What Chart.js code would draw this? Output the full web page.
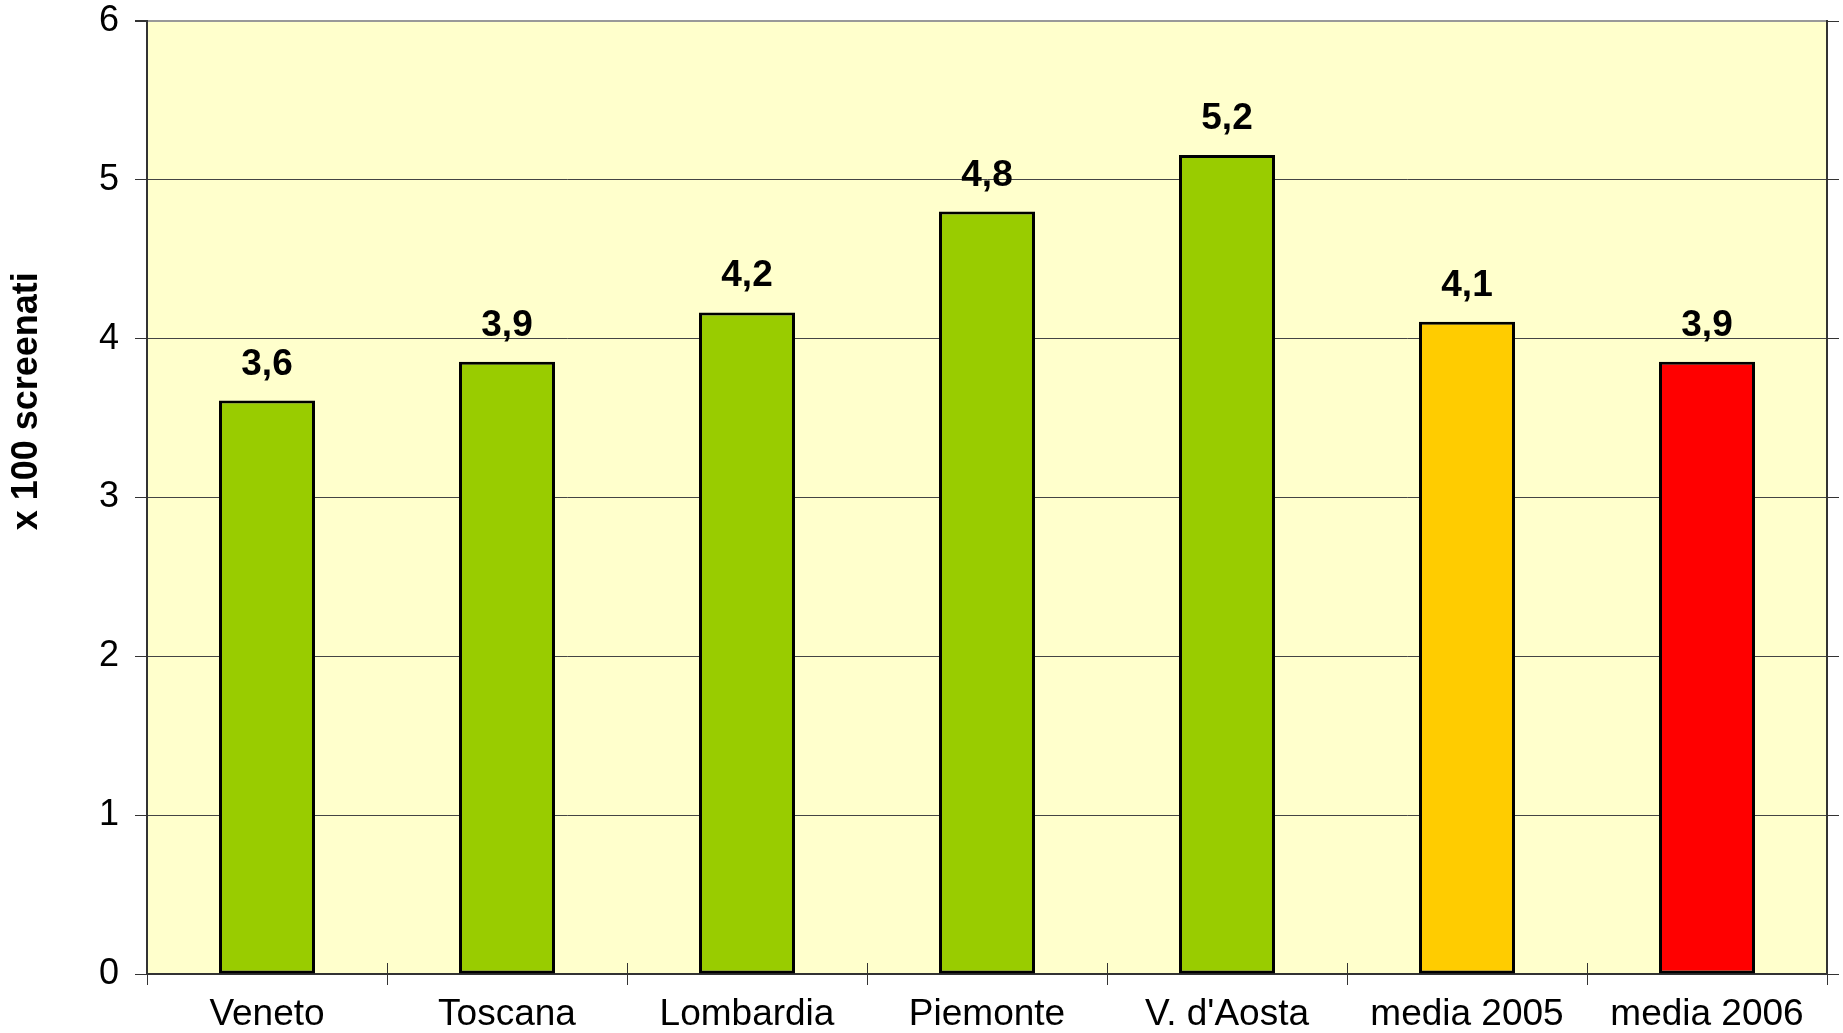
<!DOCTYPE html>
<html>
<head>
<meta charset="utf-8">
<script src="https://cdn.jsdelivr.net/npm/chart.js@4.4.0/dist/chart.umd.min.js"></script>
<style>
    html, body { margin: 0; padding: 0; background: #ffffff; }
    #wrap { width: 1843px; height: 1033px; }
</style>
</head>
<body>
<div id="wrap"><canvas id="screenChart" width="1843" height="1033"></canvas></div>
<script>
var categories = ['Veneto', 'Toscana', 'Lombardia', 'Piemonte', "V. d'Aosta", 'media 2005', 'media 2006']
var values = [3.61, 3.855, 4.165, 4.8, 5.157, 4.106, 3.855]
var barColors = ['#99CC00', '#99CC00', '#99CC00', '#99CC00', '#99CC00', '#FFCC00', '#FF0000']
var yTicks = [0, 1, 2, 3, 4, 5, 6]
var yTitle = 'x 100 screenati'

var fontFamily = '"Liberation Sans", Arial, sans-serif'

// plot background, value labels, y title and small inside ticks on the x axis
var decorPlugin = {
    id: 'decor',
    beforeDraw: function (chart) {
        var ctx = chart.ctx
        var a = chart.chartArea
        ctx.save()
        ctx.fillStyle = '#FFFFCC'
        ctx.fillRect(a.left, a.top, a.right - a.left, a.bottom - a.top)
        ctx.restore()
    },
    afterDatasetsDraw: function (chart) {
        var ctx = chart.ctx
        var a = chart.chartArea
        var meta = chart.getDatasetMeta(0)
        ctx.save()
        ctx.fillStyle = '#000000'
        ctx.font = 'bold 37px ' + fontFamily
        ctx.textAlign = 'center'
        ctx.textBaseline = 'alphabetic'
        meta.data.forEach(function (bar, i) {
            var txt = values[i].toFixed(1).replace('.', ',')
            ctx.fillText(txt, bar.x, bar.y - 26)
        })

        // x tick marks reaching into the plot
        var xs = chart.scales.x
        var step = (xs.right - xs.left) / categories.length
        ctx.strokeStyle = '#333333'
        ctx.lineWidth = 1
        for (var k = 0; k <= categories.length; k++) {
            var px = Math.round(xs.left + k * step) + 0.5
            ctx.beginPath()
            ctx.moveTo(px, a.bottom - 11)
            ctx.lineTo(px, a.bottom)
            ctx.stroke()
        }

        // y title
        ctx.font = 'bold 36px ' + fontFamily
        ctx.textBaseline = 'middle'
        ctx.translate(27, a.top + (a.bottom - a.top) * 0.399)
        ctx.rotate(-Math.PI / 2)
        ctx.fillText(yTitle, 0, 0)
        ctx.restore()
    }
}

var screenChartCanvas = document.getElementById('screenChart').getContext('2d')

var screenChartData = {
    labels: categories,
    datasets: [
        {
            data: values,
            backgroundColor: barColors,
            borderColor: '#000000',
            borderWidth: 3,
            borderSkipped: false,
            barPercentage: 0.4,
            categoryPercentage: 1.0
        }
    ]
}

var noEdgePadding = function (scale) {
    scale.paddingTop = 0
    scale.paddingBottom = 0
}

var screenChartOptions = {
    responsive: false,
    animation: false,
    layout: {
        padding: { top: 21, right: 0, bottom: 0, left: 0 }
    },
    plugins: {
        legend: { display: false },
        tooltip: { enabled: false }
    },
    scales: {
        x: {
            offset: true,
            grid: {
                offset: true,
                drawOnChartArea: false,
                color: '#333333',
                tickLength: 11,
                lineWidth: 1
            },
            border: { color: '#333333', width: 2 },
            ticks: {
                color: '#000000',
                font: { family: fontFamily, size: 37 },
                padding: 8,
                maxRotation: 0,
                autoSkip: false
            },
            afterFit: function (scale) { scale.height = 59 }
        },
        y: {
            min: 0,
            max: 6,
            afterBuildTicks: function (scale) {
                scale.ticks = yTicks.map(function (v) { return { value: v } })
            },
            grid: {
                color: function (c) { return c.tick && c.tick.value === 6 ? '#999999' : '#444444' },
                tickColor: '#333333',
                tickLength: 12,
                lineWidth: function (c) { return c.tick && c.tick.value === 6 ? 2 : 1 }
            },
            border: { color: '#333333', width: 2 },
            ticks: {
                color: '#000000',
                font: { family: fontFamily, size: 36 },
                padding: 16
            },
            afterFit: function (scale) {
                scale.width = 147
                noEdgePadding(scale)
            }
        },
        yRight: {
            position: 'right',
            min: 0,
            max: 6,
            afterBuildTicks: function (scale) {
                scale.ticks = yTicks.map(function (v) { return { value: v } })
            },
            grid: {
                drawOnChartArea: false,
                color: '#333333',
                tickLength: 12
            },
            border: { color: '#333333', width: 2 },
            ticks: { display: false },
            afterFit: function (scale) {
                scale.width = 16
                noEdgePadding(scale)
            }
        }
    }
}

// eslint-disable-next-line no-unused-vars
var screenChart = new Chart(screenChartCanvas, {
    type: 'bar',
    data: screenChartData,
    options: screenChartOptions,
    plugins: [decorPlugin]
})
</script>
</body>
</html>
